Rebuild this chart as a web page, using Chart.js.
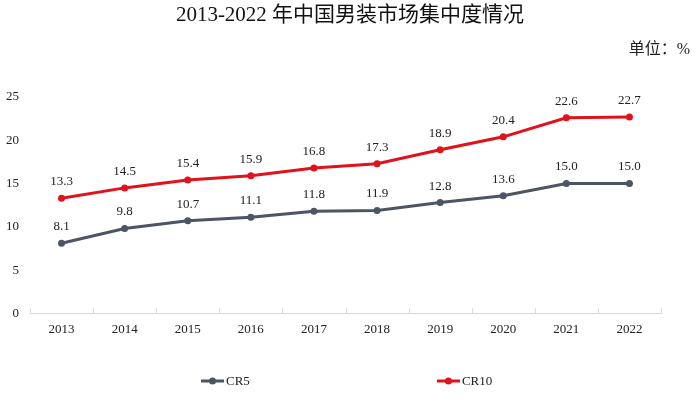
<!DOCTYPE html>
<html>
<head>
<meta charset="utf-8">
<script src="https://cdn.jsdelivr.net/npm/chart.js@4"></script>
<style>
  html, body { margin: 0; padding: 0; background: #fff; }
  #wrap { width: 698px; height: 413px; }
</style>
</head>
<body>
<div id="wrap"><canvas id="chart"></canvas></div>
<script>
// ── DATA ──────────────────────────────────────────────────────
const years = ['2013', '2014', '2015', '2016', '2017', '2018', '2019', '2020', '2021', '2022'];
const cr5 = [8.1, 9.8, 10.7, 11.1, 11.8, 11.9, 12.8, 13.6, 15.0, 15.0];
const cr10 = [13.3, 14.5, 15.4, 15.9, 16.8, 17.3, 18.9, 20.4, 22.6, 22.7];
const yTicks = [0, 5, 10, 15, 20, 25];
const titleText = '2013-2022 年中国男装市场集中度情况';
const unitText = '单位：%';

const FONT = "'Liberation Serif', 'Noto Sans CJK SC', serif";
const GRAY = '#4b5563';
const RED = '#e0121c';
const AXIS = '#d9d9d9';
const TEXT = '#222';

// value labels above each point
const valueLabels = {
  id: 'valueLabels',
  afterDatasetsDraw(chart) {
    const ctx = chart.ctx;
    ctx.save();
    ctx.font = '13px ' + FONT;
    ctx.fillStyle = TEXT;
    ctx.textAlign = 'center';
    ctx.textBaseline = 'bottom';
    chart.data.datasets.forEach((ds, i) => {
      chart.getDatasetMeta(i).data.forEach((pt, j) => {
        ctx.fillText(ds.data[j].toFixed(1), pt.x, pt.y - 10);
      });
    });
    ctx.restore();
  }
};

// short tick marks pointing up from the x axis, at category boundaries
const upTicks = {
  id: 'upTicks',
  afterDraw(chart) {
    const { ctx, chartArea } = chart;
    const x = chart.scales.x;
    const step = x.getPixelForValue(1) - x.getPixelForValue(0);
    ctx.save();
    ctx.strokeStyle = AXIS;
    ctx.lineWidth = 1;
    for (let i = 0; i <= years.length; i++) {
      const px = Math.round(x.getPixelForValue(0) - step / 2 + i * step) + 0.5;
      ctx.beginPath();
      ctx.moveTo(px, chartArea.bottom);
      ctx.lineTo(px, chartArea.bottom - 5);
      ctx.stroke();
    }
    ctx.restore();
  }
};

// title centred on the page, unit text top right, legend at the bottom
const extras = {
  id: 'extras',
  afterDraw(chart) {
    const { ctx, width, height } = chart;
    ctx.save();
    ctx.fillStyle = '#111';
    ctx.font = '21px ' + FONT;
    ctx.textAlign = 'center';
    ctx.textBaseline = 'middle';
    ctx.fillText(titleText, width / 2 + 1, 15);

    ctx.fillStyle = TEXT;
    ctx.font = '16px ' + FONT;
    ctx.textAlign = 'right';
    ctx.fillText(unitText, width - 8, 50);

    const legendX = [width * 0.288, width * 0.626];
    const ly = height - 32;
    ctx.font = '13px ' + FONT;
    ctx.textAlign = 'left';
    chart.data.datasets.forEach((ds, i) => {
      const x0 = legendX[i];
      ctx.strokeStyle = ds.borderColor;
      ctx.lineWidth = 3;
      ctx.beginPath(); ctx.moveTo(x0, ly); ctx.lineTo(x0 + 23, ly); ctx.stroke();
      ctx.fillStyle = ds.borderColor;
      ctx.beginPath(); ctx.arc(x0 + 11.5, ly, 3.5, 0, Math.PI * 2); ctx.fill();
      ctx.fillStyle = TEXT;
      ctx.fillText(ds.label, x0 + 25, ly + 1);
    });
    ctx.restore();
  }
};

new Chart(document.getElementById('chart'), {
  type: 'line',
  data: {
    labels: years,
    datasets: [
      {
        label: 'CR5',
        data: cr5,
        borderColor: GRAY,
        backgroundColor: GRAY,
        borderWidth: 3,
        pointRadius: 3.5,
        pointBackgroundColor: GRAY,
        pointBorderWidth: 0,
        tension: 0,
      },
      {
        label: 'CR10',
        data: cr10,
        borderColor: RED,
        backgroundColor: RED,
        borderWidth: 3,
        pointRadius: 3.5,
        pointBackgroundColor: RED,
        pointBorderWidth: 0,
        tension: 0,
      }
    ]
  },
  options: {
    responsive: true,
    maintainAspectRatio: false,
    animation: false,
    layout: { padding: { left: -5, right: 37, top: 97, bottom: 68 } },
    plugins: {
      title: { display: false },
      legend: { display: false },
      tooltip: { enabled: false }
    },
    scales: {
      x: {
        offset: true,
        grid: { display: false, drawTicks: false },
        border: { display: true, color: AXIS, width: 1 },
        ticks: { color: TEXT, font: { family: FONT, size: 13 }, padding: 8 }
      },
      y: {
        min: 0,
        max: 25,
        afterBuildTicks: s => { s.ticks = yTicks.map(v => ({ value: v })); },
        grid: { display: false, drawTicks: false },
        border: { display: false },
        ticks: { color: TEXT, font: { family: FONT, size: 13 }, padding: 11, autoSkip: false }
      }
    }
  },
  plugins: [valueLabels, upTicks, extras]
});
</script>
</body>
</html>
